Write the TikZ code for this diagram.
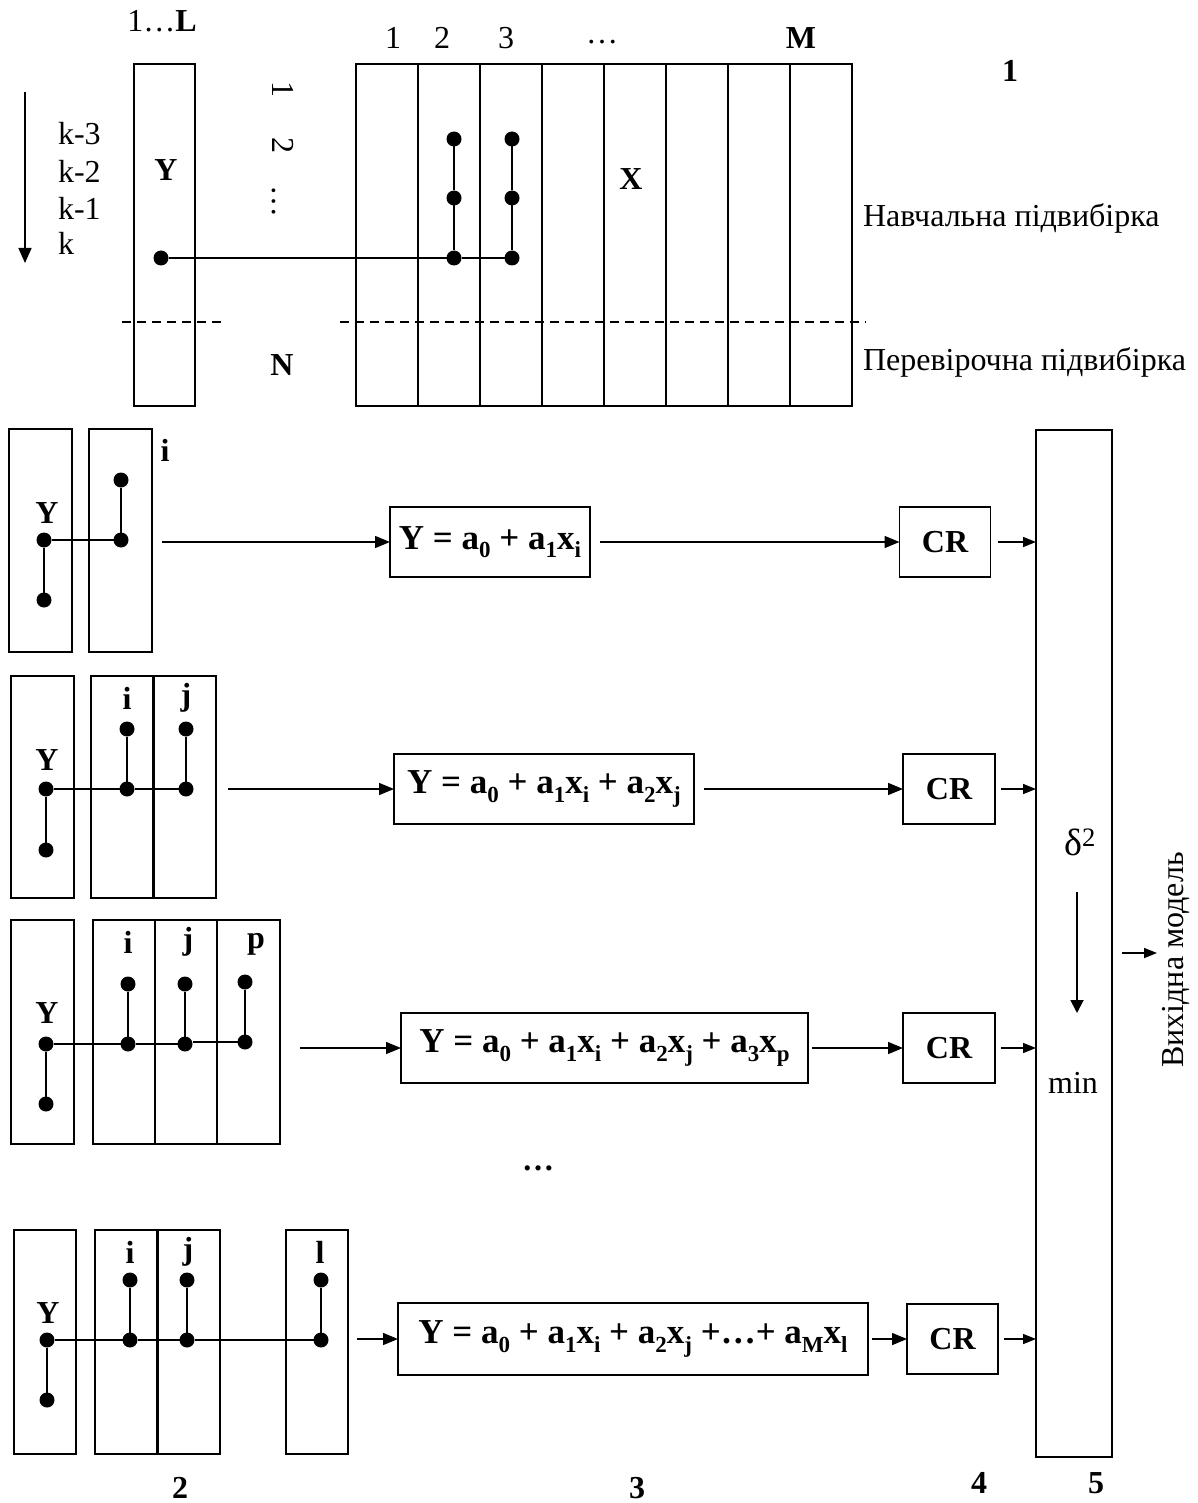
\documentclass[tikz,border=0pt]{standalone}
\usepackage{fontspec}
\setmainfont{Liberation Serif}
\usetikzlibrary{arrows.meta}
\newcommand{\fsz}[1]{\fontsize{#1}{#1}\selectfont}
\newcommand{\sbx}[1]{\raisebox{-8.5pt}{\fsz{23}#1}}
\newcommand{\boxn}[6][colbox]{\node[#1, minimum width={#5-#3}, minimum height={#6-#4}] (#2) at ({(#3+#5)/2},{(#4+#6)/2}) {};}
\begin{document}
\begin{tikzpicture}[x=1pt,y=-1pt,
  every node/.style={inner sep=0pt, outer sep=0pt},
  txt/.style={font=\fsz{32}},
  btxt/.style={font=\fsz{32}\bfseries},
  colbox/.style={draw, line width=2.4pt},
  colline/.style={line width=2.4pt},
  fbox/.style={draw, line width=1.3pt, font=\fsz{35}\bfseries},
  crbox/.style={draw, line width=1.3pt, minimum width=91pt, minimum height=70pt, font=\fsz{32}\bfseries},
  dot/.style={circle, fill=black, minimum size=15pt},
  link/.style={line width=1.6pt},
  vlink/.style={line width=2.4pt},
  dashln/.style={line width=1.4pt, dash pattern=on 9pt off 6pt},
  arr/.style={line width=1.5pt, -{Triangle[length=15pt,width=12pt]}},
  sarr/.style={line width=1.5pt, -{Triangle[length=13pt,width=10pt]}},
]
\useasboundingbox (0,0) rectangle (1197,1503);

% ---------- top block ----------
\boxn{topY}{134}{64}{195}{406}
\boxn{topX}{356}{64}{852}{406}
\foreach \x in {418,480,542,604,666,728,790} \draw[colline] (\x,64) -- (\x,406);

\node[dot] (yk) at (161,258) {};
\node[dot] (a1) at (454,139) {};
\node[dot] (a2) at (454,198) {};
\node[dot] (a3) at (454,258) {};
\node[dot] (b1) at (512,139) {};
\node[dot] (b2) at (512,198) {};
\node[dot] (b3) at (512,258) {};
\draw[link] (yk) -- (a3) -- (b3);
\draw[link] (a1) -- (a2) -- (a3);
\draw[link] (b1) -- (b2) -- (b3);

\coordinate (d1) at (122,322);
\coordinate (d2) at (224,322);
\coordinate (d3) at (340,322);
\coordinate (d4) at (866,322);
\draw[dashln] (d1) -- (d2);
\draw[dashln] (d3) -- (d4);

\node[txt] (lL) at (162,21) {1…\textbf{L}};
\node[txt] (c1) at (393,38) {1};
\node[txt] (c2) at (442,38) {2};
\node[txt] (c3) at (506,38) {3};
\node[txt] (cd) at (602,42) {…};
\node[btxt] (cM) at (801,38) {M};
\node[btxt] (one) at (1010,71) {1};
\node[btxt] (lY) at (166,170) {Y};
\node[btxt] (lX) at (631,179) {X};
\node[btxt] (lN) at (282,365) {N};
\node[txt, rotate=-90, anchor=base] (n1) at (272,90) {1};
\node[txt, rotate=-90, anchor=base] (n2) at (272,146) {2};
\node[txt, rotate=-90, anchor=base] (n3) at (272,202) {…};
\node[txt, anchor=west] (train) at (863,218) {Навчальна підвибірка};
\node[txt, anchor=west] (test) at (863,362) {Перевірочна підвибірка};

\coordinate (ka) at (25,92);
\coordinate (kb) at (25,263);
\draw[line width=1.6pt, -{Triangle[length=15pt,width=13pt]}] (ka) -- (kb);
\node[txt, anchor=west] (k3) at (58,134) {k-3};
\node[txt, anchor=west] (k2) at (58,171) {k-2};
\node[txt, anchor=west] (k1) at (58,208) {k-1};
\node[txt, anchor=west] (k0) at (58,243) {k};

% ---------- big selection box ----------
\boxn{big}{1036}{430}{1112}{1457}
\node[font=\fsz{38}] (delta) at (1080,842) {δ\textsuperscript{2}};
\coordinate (da) at (1077,892);
\coordinate (db) at (1077,1013);
\draw[line width=1.8pt, -{Triangle[length=13pt,width=13pt]}] (da) -- (db);
\node[txt] (min) at (1073,1083) {min};
\coordinate (oa) at (1122,953);
\coordinate (ob) at (1157,953);
\draw[sarr] (oa) -- (ob);
\node[txt, rotate=90, anchor=base] (out) at (1183,960) {Вихідна модель};

% ---------- row 1 ----------
\boxn{r1y}{9}{429}{72}{652}
\boxn{r1x}{89}{429}{152}{652}
\node[dot] (r1y1) at (44,540) {};
\node[dot] (r1y2) at (44,600) {};
\node[dot] (r1i1) at (121,480) {};
\node[dot] (r1i2) at (121,540) {};
\draw[link] (r1y1) -- (r1i2);
\draw[vlink] (r1y1) -- (r1y2);
\draw[vlink] (r1i1) -- (r1i2);
\node[btxt] (r1Y) at (47,513) {Y};
\node[btxt] (r1il) at (165,450) {i};
\node[fbox, minimum width=200pt, minimum height=70pt] (F1) at (490,542) {Y = a\sbx{0} + a\sbx{1}x\sbx{i}};
\coordinate (s1) at (162,542);
\draw[arr] (s1) -- (F1);
\node[crbox] (CR1) at (945,542) {CR};
\draw[arr] ([xshift=10pt]F1.east) -- (CR1);
\draw[sarr] ([xshift=7pt]CR1.east) -- (CR1.east -| big.west);

% ---------- row 2 ----------
\boxn{r2y}{11}{676}{74}{898}
\boxn{r2x}{91}{676}{216}{898}
\draw[colline] (r2x.north) -- (r2x.south);
\node[dot] (r2y1) at (46,789) {};
\node[dot] (r2y2) at (46,850) {};
\node[dot] (r2i1) at (127,729) {};
\node[dot] (r2i2) at (127,789) {};
\node[dot] (r2j1) at (186,729) {};
\node[dot] (r2j2) at (186,789) {};
\draw[link] (r2y1) -- (r2i2) -- (r2j2);
\draw[vlink] (r2y1) -- (r2y2);
\draw[vlink] (r2i1) -- (r2i2);
\draw[vlink] (r2j1) -- (r2j2);
\node[btxt] (r2Y) at (47,760) {Y};
\node[btxt] (r2il) at (127,698) {i};
\node[btxt] (r2jl) at (186,698) {j};
\node[fbox, minimum width=300pt, minimum height=70pt] (F2) at (544,789) {Y = a\sbx{0} + a\sbx{1}x\sbx{i} + a\sbx{2}x\sbx{j}};
\coordinate (s2) at (228,789);
\draw[arr] (s2) -- (F2);
\node[crbox, minimum width=92pt] (CR2) at (949,789) {CR};
\draw[arr] ([xshift=10pt]F2.east) -- (CR2);
\draw[sarr] ([xshift=6pt]CR2.east) -- (CR2.east -| big.west);

% ---------- row 3 ----------
\boxn{r3y}{11}{920}{74}{1144}
\boxn{r3x}{93}{920}{280}{1144}
\draw[colline] (155,920) -- (155,1144);
\draw[colline] (217,920) -- (217,1144);
\node[dot] (r3y1) at (46,1044) {};
\node[dot] (r3y2) at (46,1104) {};
\node[dot] (r3i1) at (128,984) {};
\node[dot] (r3i2) at (128,1044) {};
\node[dot] (r3j1) at (185,984) {};
\node[dot] (r3j2) at (185,1044) {};
\node[dot] (r3p1) at (245,982) {};
\node[dot] (r3p2) at (245,1042) {};
\draw[link] (r3y1) -- (r3i2) -- (r3j2);
\draw[link] (r3j2.east |- r3p2) -- (r3p2);
\draw[vlink] (r3y1) -- (r3y2);
\draw[vlink] (r3i1) -- (r3i2);
\draw[vlink] (r3j1) -- (r3j2);
\draw[vlink] (r3p1) -- (r3p2);
\node[btxt] (r3Y) at (47,1013) {Y};
\node[btxt] (r3il) at (128,942) {i};
\node[btxt] (r3jl) at (188,942) {j};
\node[btxt] (r3pl) at (256,944) {p};
\node[fbox, minimum width=407pt, minimum height=70pt] (F3) at (604.5,1048) {Y = a\sbx{0} + a\sbx{1}x\sbx{i} + a\sbx{2}x\sbx{j} + a\sbx{3}x\sbx{p}};
\coordinate (s3) at (300,1048);
\draw[arr] (s3) -- (F3);
\node[crbox, minimum width=92pt] (CR3) at (949,1048) {CR};
\draw[arr] ([xshift=4pt]F3.east) -- (CR3);
\draw[sarr] ([xshift=6pt]CR3.east) -- (CR3.east -| big.west);

\node[btxt] (ell) at (538,1168) {…};

% ---------- row 4 ----------
\boxn{r4y}{14}{1230}{76}{1454}
\boxn{r4x}{95}{1230}{220}{1454}
\draw[colline] (r4x.north) -- (r4x.south);
\boxn{r4l}{286}{1230}{348}{1454}
\node[dot] (r4y1) at (47,1340) {};
\node[dot] (r4y2) at (47,1400) {};
\node[dot] (r4i1) at (130,1280) {};
\node[dot] (r4i2) at (130,1340) {};
\node[dot] (r4j1) at (187,1280) {};
\node[dot] (r4j2) at (187,1340) {};
\node[dot] (r4l1) at (321,1280) {};
\node[dot] (r4l2) at (321,1340) {};
\draw[link] (r4y1) -- (r4i2) -- (r4j2) -- (r4l2);
\draw[vlink] (r4y1) -- (r4y2);
\draw[vlink] (r4i1) -- (r4i2);
\draw[vlink] (r4j1) -- (r4j2);
\draw[vlink] (r4l1) -- (r4l2);
\node[btxt] (r4Y) at (48,1313) {Y};
\node[btxt] (r4il) at (130,1252) {i};
\node[btxt] (r4jl) at (188,1252) {j};
\node[btxt] (r4ll) at (320,1252) {l};
\node[fbox, minimum width=470pt, minimum height=72pt] (F4) at (633,1339) {Y = a\sbx{0} + a\sbx{1}x\sbx{i} + a\sbx{2}x\sbx{j} +…+ a\sbx{M}x\sbx{l}};
\coordinate (s4) at (357,1339);
\draw[arr] (s4) -- (F4);
\node[crbox] (CR4) at (952.5,1339) {CR};
\draw[arr] ([xshift=4pt]F4.east) -- (CR4);
\draw[sarr] ([xshift=6pt]CR4.east) -- (CR4.east -| big.west);

% ---------- bottom labels ----------
\node[btxt] (lb2) at (180,1488) {2};
\node[btxt] (lb3) at (637,1488) {3};
\node[btxt] (lb4) at (979,1483) {4};
\node[btxt] (lb5) at (1096,1483) {5};
\end{tikzpicture}
\end{document}
